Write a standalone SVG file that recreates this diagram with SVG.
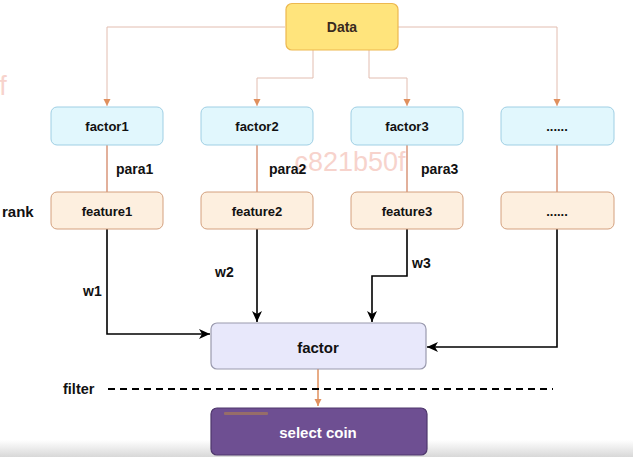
<svg xmlns="http://www.w3.org/2000/svg" width="633" height="457" viewBox="0 0 633 457">
<style>
text{font-family:"Liberation Sans",Arial,sans-serif;font-weight:bold;text-anchor:middle;dominant-baseline:central;fill:#111}
.lbl{text-anchor:start;font-size:14px}
.fac rect{fill:#E1F7FD;stroke:#9FCFE4;stroke-width:1}
.fea rect{fill:#FDEFDF;stroke:#D4A07E;stroke-width:1}
.box text{font-size:13px}
.thin{fill:none;stroke:#E2BDB0;stroke-width:1}
.org{fill:none;stroke:#D9967A;stroke-width:1.5}
.blk{fill:none;stroke:#000;stroke-width:1.6}
.wm{font-weight:normal;fill:#F7D3CC;font-size:27px}
</style>
<defs>
<marker id="oa" markerWidth="8" markerHeight="8" refX="7" refY="4" orient="auto" markerUnits="userSpaceOnUse"><path d="M0,0.5 L7,4 L0,7.5 z" fill="#E0905E"/></marker>
<marker id="ba" markerWidth="12" markerHeight="10" refX="11" refY="5" orient="auto" markerUnits="userSpaceOnUse"><path d="M0,0 L11,5 L0,10 L3,5 z" fill="#000"/></marker>
<linearGradient id="bg" x1="0" y1="0" x2="0" y2="1"><stop offset="0" stop-color="#ffffff"/><stop offset="1" stop-color="#d8d8d8"/></linearGradient>
</defs>
<rect x="0" y="0" width="633" height="457" fill="#fff"/>
<rect x="0" y="440" width="633" height="17" fill="url(#bg)"/>
<text class="wm" x="350" y="162">c821b50f</text>
<text class="wm" x="3" y="86">f</text>

<g id="connectors">
<path class="thin" d="M285,27 H107 V106" marker-end="url(#oa)"/>
<path class="thin" d="M398,27 H557 V106" marker-end="url(#oa)"/>
<path class="thin" d="M313,50 V78 H257 V106" marker-end="url(#oa)"/>
<path class="thin" d="M369,50 V78 H407 V106" marker-end="url(#oa)"/>
<path class="org" d="M107,145 V192"/>
<path class="org" d="M257,145 V192"/>
<path class="org" d="M407,145 V192"/>
<path class="org" d="M557,145 V192"/>
<path class="blk" d="M107,229 V334 H210" marker-end="url(#ba)"/>
<path class="blk" d="M257,229 V322" marker-end="url(#ba)"/>
<path class="blk" d="M407,229 V276 H372 V322" marker-end="url(#ba)"/>
<path class="blk" d="M557,229 V347 H427" marker-end="url(#ba)"/>
<path d="M318,369 V406" fill="none" stroke="#E0905E" stroke-width="1.5" marker-end="url(#oa)"/>
<line x1="108" y1="389" x2="553" y2="389" stroke="#000" stroke-width="1.8" stroke-dasharray="7,5"/>
</g>

<g id="labels">
<text class="lbl" x="116" y="169">para1</text>
<text class="lbl" x="269" y="169">para2</text>
<text class="lbl" x="421" y="169">para3</text>
<text class="lbl" x="2" y="211" style="font-size:15px">rank</text>
<text class="lbl" x="83" y="291">w1</text>
<text class="lbl" x="215" y="272">w2</text>
<text class="lbl" x="412" y="263">w3</text>
<text class="lbl" x="63" y="389" style="font-size:14.5px">filter</text>
</g>

<g id="data" class="box"><rect x="286" y="3.5" width="112" height="46.5" rx="6" fill="#FFE47C" stroke="#EDB84F" stroke-width="1.2"/><text x="342" y="27" style="font-size:14px;fill:#3a2a1e">Data</text></g>

<g id="factor1" class="box fac"><rect x="51" y="107" width="112" height="38" rx="6"/><text x="107" y="126">factor1</text></g>
<g id="factor2" class="box fac"><rect x="201" y="107" width="112" height="38" rx="6"/><text x="257" y="126">factor2</text></g>
<g id="factor3" class="box fac"><rect x="351" y="107" width="112" height="38" rx="6"/><text x="407" y="126">factor3</text></g>
<g id="factor4" class="box fac"><rect x="501" y="107" width="113" height="38" rx="6"/><text x="557" y="126">......</text></g>

<g id="feature1" class="box fea"><rect x="51" y="192" width="112" height="37" rx="6"/><text x="107" y="211">feature1</text></g>
<g id="feature2" class="box fea"><rect x="201" y="192" width="112" height="37" rx="6"/><text x="257" y="211">feature2</text></g>
<g id="feature3" class="box fea"><rect x="351" y="192" width="112" height="37" rx="6"/><text x="407" y="211">feature3</text></g>
<g id="feature4" class="box fea"><rect x="501" y="192" width="113" height="37" rx="6"/><text x="557" y="211">......</text></g>

<g id="factor"><rect x="211" y="323" width="215" height="46" rx="6" fill="#E8E8FB" stroke="#9A9AAE" stroke-width="1.2"/><text x="318" y="347" style="font-size:15px">factor</text></g>

<g id="select"><rect x="211" y="408" width="216" height="47" rx="6" fill="#6E4F92" stroke="#4E376C" stroke-width="1.2"/><rect x="224" y="412" width="44" height="3" rx="1" fill="#A67A58" opacity="0.7"/><text x="318" y="432" style="font-size:15px;fill:#fff">select coin</text></g>
</svg>
